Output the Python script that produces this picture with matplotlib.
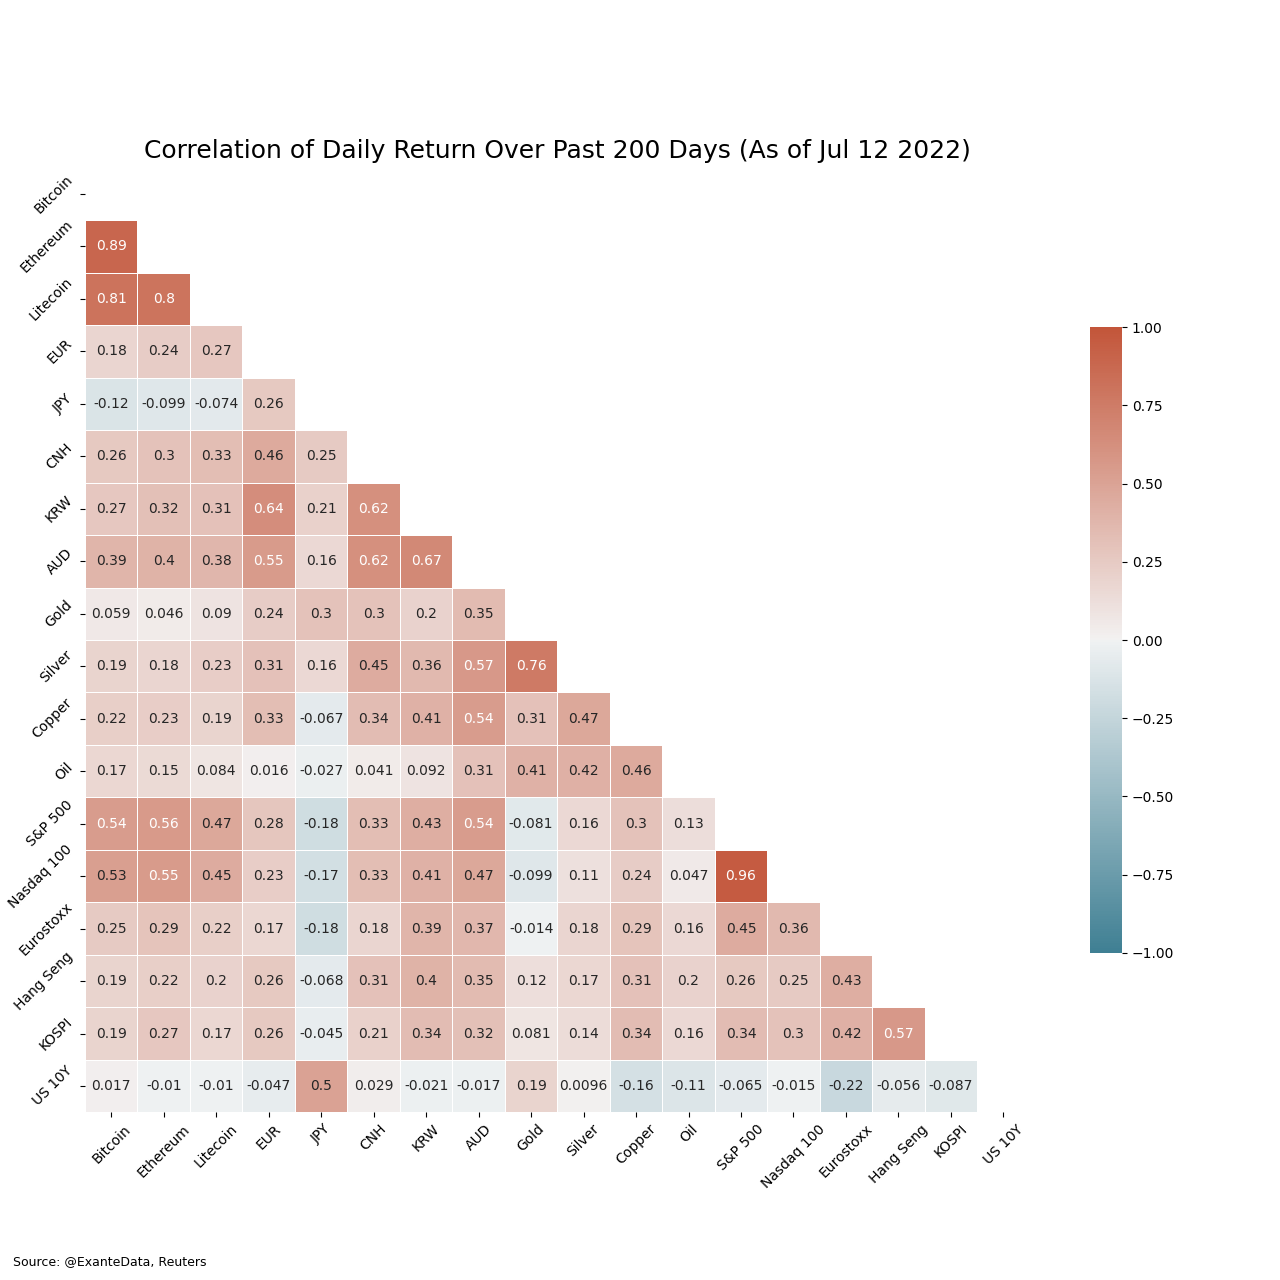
import numpy as np
import pandas as pd
import matplotlib
matplotlib.use("Agg")
import matplotlib.pyplot as plt
import seaborn as sns

assets = ["Bitcoin", "Ethereum", "Litecoin", "EUR", "JPY", "CNH", "KRW", "AUD",
          "Gold", "Silver", "Copper", "Oil", "S&P 500", "Nasdaq 100", "Eurostoxx",
          "Hang Seng", "KOSPI", "US 10Y"]

# lower-triangle correlations, row by row (row i has i values)
r_ethereum = [0.89]
r_litecoin = [0.81, 0.8]
r_eur = [0.18, 0.24, 0.27]
r_jpy = [-0.12, -0.099, -0.074, 0.26]
r_cnh = [0.26, 0.3, 0.33, 0.46, 0.25]
r_krw = [0.27, 0.32, 0.31, 0.64, 0.21, 0.62]
r_aud = [0.39, 0.4, 0.38, 0.55, 0.16, 0.62, 0.67]
r_gold = [0.059, 0.046, 0.09, 0.24, 0.3, 0.3, 0.2, 0.35]
r_silver = [0.19, 0.18, 0.23, 0.31, 0.16, 0.45, 0.36, 0.57, 0.76]
r_copper = [0.22, 0.23, 0.19, 0.33, -0.067, 0.34, 0.41, 0.54, 0.31, 0.47]
r_oil = [0.17, 0.15, 0.084, 0.016, -0.027, 0.041, 0.092, 0.31, 0.41, 0.42, 0.46]
r_sp500 = [0.54, 0.56, 0.47, 0.28, -0.18, 0.33, 0.43, 0.54, -0.081, 0.16, 0.3, 0.13]
r_nasdaq = [0.53, 0.55, 0.45, 0.23, -0.17, 0.33, 0.41, 0.47, -0.099, 0.11, 0.24, 0.047, 0.96]
r_eurostoxx = [0.25, 0.29, 0.22, 0.17, -0.18, 0.18, 0.39, 0.37, -0.014, 0.18, 0.29, 0.16, 0.45, 0.36]
r_hangseng = [0.19, 0.22, 0.2, 0.26, -0.068, 0.31, 0.4, 0.35, 0.12, 0.17, 0.31, 0.2, 0.26, 0.25, 0.43]
r_kospi = [0.19, 0.27, 0.17, 0.26, -0.045, 0.21, 0.34, 0.32, 0.081, 0.14, 0.34, 0.16, 0.34, 0.3, 0.42, 0.57]
r_us10y = [0.017, -0.01, -0.01, -0.047, 0.5, 0.029, -0.021, -0.017, 0.19, 0.0096, -0.16, -0.11,
           -0.065, -0.015, -0.22, -0.056, -0.087]

rows = [[], r_ethereum, r_litecoin, r_eur, r_jpy, r_cnh, r_krw, r_aud, r_gold, r_silver,
        r_copper, r_oil, r_sp500, r_nasdaq, r_eurostoxx, r_hangseng, r_kospi, r_us10y]

n = len(assets)
mat = np.eye(n)
for i, r in enumerate(rows):
    for j, v in enumerate(r):
        mat[i, j] = v
        mat[j, i] = v
corr = pd.DataFrame(mat, index=assets, columns=assets)
mask = np.triu(np.ones_like(mat, dtype=bool))

cmap = sns.diverging_palette(220, 20, as_cmap=True)

fig = plt.figure(figsize=(12.8, 12.8), dpi=100)
ax = fig.add_axes([0.0664, 0.131, 0.738, 0.738])
cax = fig.add_axes([0.8516, 0.2555, 0.025, 0.489])

sns.heatmap(corr, mask=mask, cmap=cmap, vmin=-1, vmax=1, center=0, annot=True,
            square=True, linewidths=0.5, linecolor="white", ax=ax, cbar_ax=cax,
            annot_kws={"fontsize": 10})

ax.set_title("Correlation of Daily Return Over Past 200 Days (As of Jul 12 2022)",
             fontsize=18, pad=7)
ax.set_xticklabels(assets, rotation=45, fontsize=10)
ax.set_yticklabels(assets, rotation=45, fontsize=10)
cax.tick_params(labelsize=10)
fig.text(0.01, 0.012, "Source: @ExanteData, Reuters", fontsize=9)

fig.savefig("out.png", dpi=100)
